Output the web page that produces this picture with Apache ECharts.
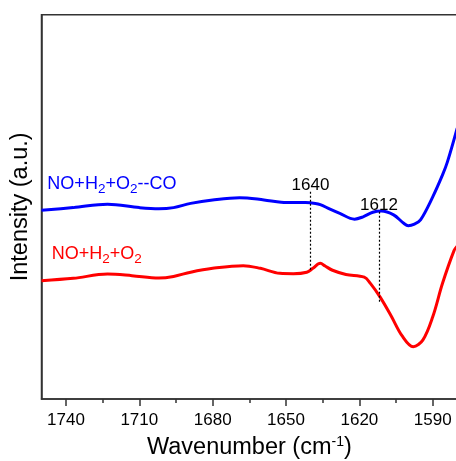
<!DOCTYPE html>
<html>
<head>
<meta charset="utf-8">
<script src="https://cdn.jsdelivr.net/npm/echarts@6/dist/echarts.min.js"></script>
<style>
  html, body { margin: 0; padding: 0; background: #fff; }
  #chart { width: 456px; height: 461px; }
</style>
</head>
<body>
<div id="chart"></div>
<script>
// DRIFTS spectra, wavenumber (cm-1) vs intensity (a.u., offset traces)
const coWavenumber = [1750, 1737, 1723, 1710, 1702, 1696, 1689, 1680, 1669, 1659, 1652, 1646, 1642, 1638, 1636, 1632, 1628, 1622, 1618.5, 1614.5, 1611, 1606, 1602, 1600, 1597.5, 1595, 1590, 1586, 1584, 1580];
const coIntensity  = [49.1, 49.8, 50.7, 49.8, 49.5, 49.8, 50.9, 51.8, 52.4, 51.8, 51.2, 51.1, 51.1, 50.9, 50.6, 49.4, 48.3, 46.8, 47.4, 48.6, 48.9, 47.9, 45.8, 45.1, 45.5, 46.6, 52.6, 58.3, 61.7, 70.5];

const baseWavenumber = [1750, 1737, 1723, 1713, 1702, 1696, 1689, 1680, 1667.5, 1660.5, 1652.5, 1647, 1641.5, 1639, 1636, 1634, 1631, 1625.5, 1618, 1615.5, 1611.5, 1607, 1602.5, 1598, 1594, 1590, 1586, 1581.3, 1580];
const baseIntensity  = [30.8, 31.4, 32.5, 32.1, 31.5, 31.9, 33.0, 34.0, 34.7, 34.0, 32.7, 32.6, 33.0, 34.0, 35.3, 34.6, 33.5, 32.4, 31.7, 30.1, 26.5, 21.6, 16.4, 13.6, 15.4, 21.4, 30.1, 38.6, 39.8];

const majorTicks = [1740, 1710, 1680, 1650, 1620, 1590];
const minorTicks = [1725, 1695, 1665, 1635, 1605];

// marked band positions (cm-1) and the intensity span of each guide line
const peakPositions = [1640, 1612];
const peakGuideTop = [53.9, 48.7];
const peakGuideBottom = [33.1, 24.9];

const seriesNames = ['NO+H2+O2--CO', 'NO+H2+O2'];

const FONT = 'Liberation Sans';
const AXIS_COLOR = '#333';

function pairs(xs, ys) { return xs.map((x, i) => [x, ys[i]]); }

const subRich = (color) => ({
  n: { fontFamily: FONT, fontSize: 18, color: color, lineHeight: 24, verticalAlign: 'middle' },
  s: { fontFamily: FONT, fontSize: 13.5, color: color, lineHeight: 24, verticalAlign: 'bottom' }
});

const chart = echarts.init(document.getElementById('chart'), null, { renderer: 'canvas' });

chart.setOption({
  animation: false,
  backgroundColor: '#fff',
  textStyle: { fontFamily: FONT },
  grid: {
    left: 41.5, right: -1.2, top: 14.7, bottom: 62,
    outerBoundsMode: 'none', containLabel: false,
    show: true, borderColor: AXIS_COLOR, borderWidth: 1.5
  },
  xAxis: [{
    type: 'value', min: 1580, max: 1750, inverse: true, position: 'bottom',
    axisLine: { show: true, lineStyle: { color: AXIS_COLOR, width: 1.5 } },
    axisTick: { show: true, customValues: majorTicks, length: 7, lineStyle: { color: AXIS_COLOR, width: 1.5 } },
    axisLabel: {
      show: true, customValues: majorTicks, fontSize: 17, color: '#000', margin: 13, fontFamily: FONT,
      formatter: (v) => String(v)
    },
    splitLine: { show: false },
    name: '{t|Wavenumber (cm}{u|-1}{t|)}',
    nameLocation: 'middle', nameGap: 36,
    nameTextStyle: {
      rich: {
        t: { fontFamily: FONT, fontSize: 23.5, color: '#000', lineHeight: 26, verticalAlign: 'middle' },
        u: { fontFamily: FONT, fontSize: 14, color: '#000', lineHeight: 26, verticalAlign: 'top' }
      }
    }
  }, {
    type: 'value', min: 1580, max: 1750, inverse: true, position: 'bottom', gridIndex: 0,
    axisLine: { show: false },
    axisTick: { show: true, customValues: minorTicks, length: 4, lineStyle: { color: AXIS_COLOR, width: 1.5 } },
    axisLabel: { show: false },
    splitLine: { show: false }
  }],
  yAxis: {
    type: 'value', min: 0, max: 100,
    axisLine: { show: true, lineStyle: { color: AXIS_COLOR, width: 1.5 } },
    axisTick: { show: false },
    axisLabel: { show: false },
    splitLine: { show: false },
    name: 'Intensity (a.u.)',
    nameLocation: 'middle', nameGap: 9,
    nameTextStyle: { fontFamily: FONT, fontSize: 23.5, color: '#000' }
  },
  series: [{
    name: seriesNames[0],
    type: 'line',
    xAxisIndex: 0,
    data: pairs(coWavenumber, coIntensity),
    showSymbol: false, smooth: 0.35,
    lineStyle: { color: '#0000ff', width: 3 },
    markPoint: {
      silent: true, symbol: 'circle', symbolSize: 0,
      data: [{
        coord: [1747.6, 55.9],
        label: {
          show: true, position: 'right', distance: 0,
          formatter: '{n|NO+H}{s|2}{n|+O}{s|2}{n|--CO}',
          rich: subRich('#0000ff')
        }
      }]
    }
  }, {
    name: seriesNames[1],
    type: 'line',
    xAxisIndex: 0,
    data: pairs(baseWavenumber, baseIntensity),
    showSymbol: false, smooth: 0.35,
    lineStyle: { color: '#ff0000', width: 3 },
    markPoint: {
      silent: true, symbol: 'circle', symbolSize: 0,
      data: [{
        coord: [1745.8, 37.6],
        label: {
          show: true, position: 'right', distance: 0,
          formatter: '{n|NO+H}{s|2}{n|+O}{s|2}',
          rich: subRich('#ff0000')
        }
      }]
    },
    markLine: {
      silent: true, symbol: ['none', 'none'], animation: false,
      lineStyle: { color: '#000', width: 1.2, type: [2, 2] },
      data: peakPositions.map((p, i) => [
        {
          coord: [p, peakGuideTop[i]],
          label: { show: true, position: 'start', distance: -2, formatter: String(p), fontSize: 17, color: '#000', fontFamily: FONT }
        },
        { coord: [p, peakGuideBottom[i]] }
      ])
    }
  }]
});
</script>
</body>
</html>
